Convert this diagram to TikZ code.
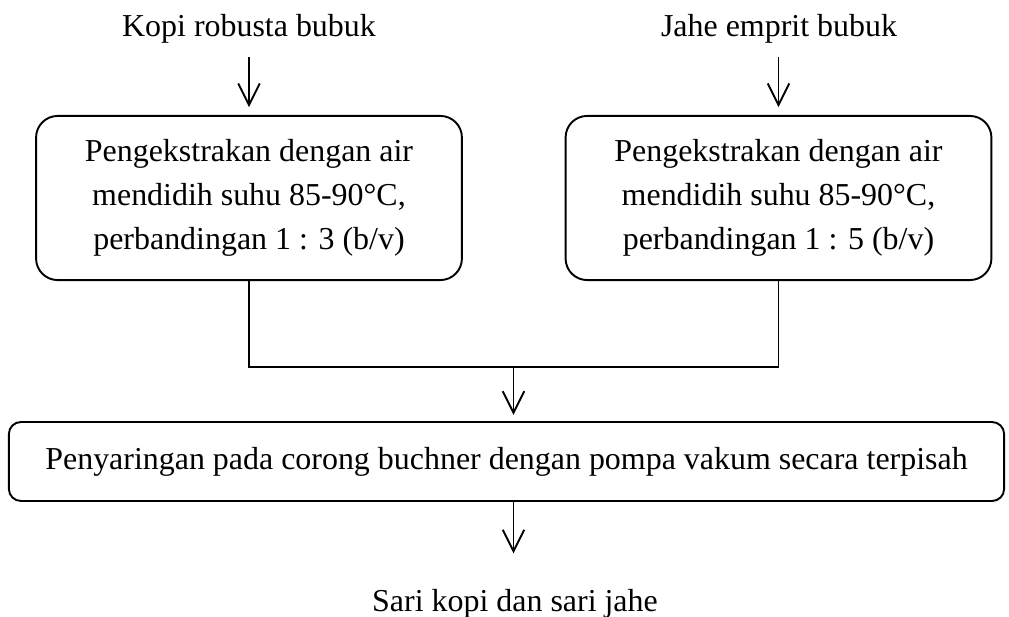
\documentclass[tikz,border=0pt]{standalone}
\usepackage{fontspec}
\setmainfont{Liberation Serif}
\usetikzlibrary{arrows.meta, calc, positioning}

\begin{document}
\begin{tikzpicture}[
	x=0.418pt, y=-0.418pt,
	every node/.style = {align=center, font=\fontsize{13.35}{18.4}\selectfont},
	input label/.style = {anchor=base, inner sep=2pt},
	process box/.style = {draw, line width=0.8pt, rounded corners=9pt, minimum width=178pt, minimum height=68.6pt, inner sep=0pt},
	wide box/.style = {draw, line width=0.8pt, rounded corners=5pt, minimum width=416pt, minimum height=33pt, inner sep=0pt},
	flow/.style = {line width=0.8pt, -{Straight Barb[length=9pt, width=9pt, line width=0.8pt]}},
	link/.style = {line width=0.8pt}
]

\useasboundingbox (0,0) rectangle (1009,617);

% bahan awal
\node[input label] (kopi) at (249,37) {Kopi robusta bubuk};
\node[input label] (jahe) at (779,37) {Jahe emprit bubuk};

% ekstraksi
\node[process box] (ext kopi) at (249,198) {Pengekstrakan dengan air\\mendidih suhu 85-90°C,\\perbandingan 1 : 3 (b/v)};
\node[process box] (ext jahe) at (778.5,198) {Pengekstrakan dengan air\\mendidih suhu 85-90°C,\\perbandingan 1 : 5 (b/v)};

% penyaringan dan hasil
\node[wide box] (saring) at (506.5,461.5) {Penyaringan pada corong buchner dengan pompa vakum secara terpisah};
\node[input label] (sari) at (515,612) {Sari kopi dan sari jahe};

\coordinate (join) at (513.5,367);

\draw[flow, shorten <=3.5pt, shorten >=3.3pt] (kopi.south) -- (ext kopi.north);
\draw[flow, shorten <=3.5pt, shorten >=3.3pt] (jahe.south -| ext jahe.north) -- (ext jahe.north);
\draw[link] (ext kopi.south) |- (join) -| (ext jahe.south);
\draw[flow, shorten >=2.6pt] (join) -- (saring.north -| join);
\draw[flow, shorten >=13pt] (saring.south -| join) -- (sari.north -| join);

\end{tikzpicture}
\end{document}
